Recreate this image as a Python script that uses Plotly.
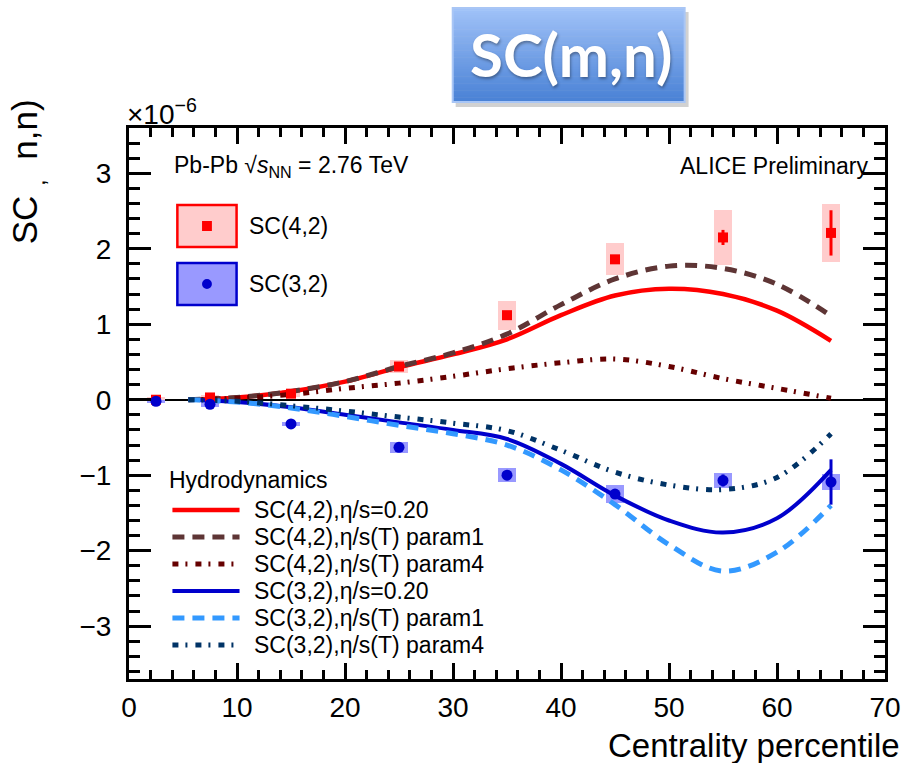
import plotly.graph_objects as go

# ---------------- data ----------------
cent = [2.5, 7.5, 15, 25, 35, 45, 55, 65]

sc42 = [0.0, 0.03, 0.08, 0.44, 1.12, 1.86, 2.15, 2.21]
sc42_stat = [0.02, 0.02, 0.02, 0.03, 0.04, 0.05, 0.10, 0.30]
sc42_sys = [0.04, 0.03, 0.05, 0.08, 0.19, 0.21, 0.37, 0.38]

sc32 = [-0.02, -0.06, -0.32, -0.63, -1.00, -1.25, -1.07, -1.09]
sc32_stat = [0.02, 0.02, 0.02, 0.02, 0.03, 0.04, 0.08, 0.30]
sc32_sys = [0.02, 0.03, 0.03, 0.07, 0.09, 0.12, 0.10, 0.11]
box_halfwidth = 0.8

hydro_x = [5.5, 10, 15, 20, 25, 30, 35, 40, 45, 50, 55, 60, 65]
sc42_eta020 = [0.0, 0.03, 0.11, 0.24, 0.43, 0.60, 0.80, 1.12, 1.38, 1.47, 1.40, 1.18, 0.78]
sc42_param1 = [0.0, 0.03, 0.11, 0.24, 0.44, 0.62, 0.87, 1.26, 1.60, 1.77, 1.74, 1.53, 1.11]
sc42_param4 = [0.0, 0.02, 0.07, 0.15, 0.22, 0.31, 0.41, 0.49, 0.54, 0.44, 0.28, 0.15, 0.02]
sc32_eta020 = [0.0, -0.03, -0.10, -0.20, -0.30, -0.40, -0.52, -0.85, -1.27, -1.60, -1.76, -1.57, -0.93]
sc32_param1 = [0.0, -0.03, -0.11, -0.22, -0.34, -0.45, -0.60, -0.93, -1.39, -1.92, -2.27, -2.02, -1.40]
sc32_param4 = [0.0, -0.02, -0.08, -0.15, -0.23, -0.31, -0.41, -0.67, -0.96, -1.13, -1.19, -1.03, -0.45]

x_ticks = [0, 10, 20, 30, 40, 50, 60, 70]
y_ticks = [-3, -2, -1, 0, 1, 2, 3]

hydro_labels = [
    "SC(4,2),η/s=0.20",
    "SC(4,2),η/s(T) param1",
    "SC(4,2),η/s(T) param4",
    "SC(3,2),η/s=0.20",
    "SC(3,2),η/s(T) param1",
    "SC(3,2),η/s(T) param4",
]

# ---------------- styles ----------------
FONT = "Liberation Sans, Arial, Helvetica, sans-serif"
RED = "#ff0000"
BROWN = "#5e3535"
DARKRED = "#660000"
BLUE = "#0000cc"
LIGHTBLUE = "#3399ff"
NAVY = "#003366"
PINK = "#ffcccc"
LAVENDER = "#9999ff"
DASH = "12px,8px"
DASHDOT = "6px,7px,2px,8px"

hydro_series = [sc42_eta020, sc42_param1, sc42_param4, sc32_eta020, sc32_param1, sc32_param4]
hydro_styles = [
    (RED, "solid", 4.5),
    (BROWN, DASH, 5),
    (DARKRED, DASHDOT, 5),
    (BLUE, "solid", 4),
    (LIGHTBLUE, DASH, 5),
    (NAVY, DASHDOT, 5),
]

fig = go.Figure()

# systematic boxes
for vals, sys, col in [(sc42, sc42_sys, PINK), (sc32, sc32_sys, LAVENDER)]:
    fig.add_trace(go.Bar(
        x=cent, y=[2 * s for s in sys], base=[v - s for v, s in zip(vals, sys)],
        width=2 * box_halfwidth, marker=dict(color=col, line=dict(width=0)),
        showlegend=False, hoverinfo="skip"))

# hydro curves
for ys, (col, dash, w), name in zip(hydro_series, hydro_styles, hydro_labels):
    fig.add_trace(go.Scatter(
        x=hydro_x, y=ys, mode="lines", name=name,
        line=dict(color=col, dash=dash, width=w, shape="spline", smoothing=1.0),
        showlegend=False))

# data points
fig.add_trace(go.Scatter(
    x=cent, y=sc42, mode="markers", name="SC(4,2)",
    marker=dict(symbol="square", size=10, color=RED),
    error_y=dict(type="data", array=sc42_stat, width=0, thickness=3, color=RED),
    showlegend=False))
fig.add_trace(go.Scatter(
    x=cent, y=sc32, mode="markers", name="SC(3,2)",
    marker=dict(symbol="circle", size=11, color=BLUE),
    error_y=dict(type="data", array=sc32_stat, width=0, thickness=3, color=BLUE),
    showlegend=False))

# ---------------- layout helpers (decoration positions) ----------------
W, H = 913, 763
L, R, T, B = 129, 895, 128, 679


def px(xp):
    return (xp - L) / (R - L)


def py(yp):
    return (B - yp) / (B - T)


shapes = []
annotations = []

# title box with vertical gradient
bx0, bx1, by0, by1 = 457, 692, 8, 102
shapes.append(dict(type="rect", xref="paper", yref="paper",
                   x0=px(bx0 + 3), x1=px(bx1 + 4), y0=py(by1 + 5), y1=py(by0 + 4),
                   fillcolor="rgba(0,0,0,0.18)", line=dict(width=0), layer="above"))
top_c = (160, 194, 248)
bot_c = (74, 130, 214)
n = 40
for i in range(n):
    f = i / (n - 1)
    c = tuple(int(top_c[k] + (bot_c[k] - top_c[k]) * f) for k in range(3))
    ya = by0 + (by1 - by0) * i / n
    yb = by0 + (by1 - by0) * (i + 1) / n
    shapes.append(dict(type="rect", xref="paper", yref="paper",
                       x0=px(bx0), x1=px(bx1), y0=py(yb + 0.5), y1=py(ya),
                       fillcolor="rgb(%d,%d,%d)" % c, line=dict(width=0), layer="above"))
shapes.append(dict(type="rect", xref="paper", yref="paper",
                   x0=px(bx0), x1=px(bx1), y0=py(by1), y1=py(by0),
                   fillcolor="rgba(0,0,0,0)", line=dict(color="#a9c6f5", width=2), layer="above"))
annotations.append(dict(text="SC(m,n)", xref="paper", yref="paper",
                        x=px((bx0 + bx1) / 2 + 2), y=py(54), xanchor="center", yanchor="middle",
                        showarrow=False,
                        font=dict(family="Lato, Open Sans, sans-serif", size=60, color="white",
                                  weight="bold", shadow="1px 2px 3px rgba(0,0,0,0.35)")))

# top legend boxes
for (yc, fill, edge, sym, col, lab) in [
        (226, PINK, RED, "square", RED, "SC(4,2)"),
        (284, LAVENDER, BLUE, "circle", BLUE, "SC(3,2)")]:
    shapes.append(dict(type="rect", xref="paper", yref="paper",
                       x0=px(178), x1=px(238), y0=py(yc + 21), y1=py(yc - 21),
                       fillcolor=fill, line=dict(color=edge, width=2.5)))
    if sym == "square":
        shapes.append(dict(type="rect", xref="paper", yref="paper",
                           x0=px(203), x1=px(213), y0=py(yc + 5), y1=py(yc - 5),
                           fillcolor=col, line=dict(width=0)))
    else:
        shapes.append(dict(type="circle", xref="paper", yref="paper",
                           x0=px(203), x1=px(213), y0=py(yc + 5), y1=py(yc - 5),
                           fillcolor=col, line=dict(width=0)))
    annotations.append(dict(text=lab, xref="paper", yref="paper", x=px(249), y=py(yc),
                            xanchor="left", yanchor="middle", showarrow=False,
                            font=dict(family=FONT, size=23, color="black")))

# hydrodynamics legend
annotations.append(dict(text="Hydrodynamics", xref="paper", yref="paper", x=px(168), y=py(480),
                        xanchor="left", yanchor="middle", showarrow=False,
                        font=dict(family=FONT, size=23, color="black")))
rows = [510, 537, 564, 591, 618, 645]
for yr, (col, dash, w), lab in zip(rows, hydro_styles, hydro_labels):
    shapes.append(dict(type="line", xref="paper", yref="paper",
                       x0=px(173), x1=px(241), y0=py(yr), y1=py(yr),
                       line=dict(color=col, dash=dash, width=w)))
    annotations.append(dict(text=lab, xref="paper", yref="paper", x=px(254), y=py(yr),
                            xanchor="left", yanchor="middle", showarrow=False,
                            font=dict(family=FONT, size=23, color="black")))

# texts
NB = "\u00a0"
annotations += [
    dict(text="Pb-Pb √<i>s</i><sub>NN</sub> = 2.76 TeV", xref="paper", yref="paper",
         x=px(173), y=py(166), xanchor="left", yanchor="middle", showarrow=False,
         font=dict(family=FONT, size=23, color="black")),
    dict(text="ALICE Preliminary", xref="paper", yref="paper",
         x=px(880), y=py(166), xanchor="right", yanchor="middle", showarrow=False,
         font=dict(family=FONT, size=23, color="black")),
    dict(text="×10<sup>−6</sup>", xref="paper", yref="paper",
         x=px(125), y=py(112), xanchor="left", yanchor="middle", showarrow=False,
         font=dict(family=FONT, size=28, color="black")),
    dict(text="Centrality percentile", xref="paper", yref="paper",
         x=px(912), y=py(745), xanchor="right", yanchor="middle", showarrow=False,
         font=dict(family=FONT, size=33, color="black")),
    dict(text="SC" + NB + "<sub>,</sub>" + NB * 2 + "n,n)", xref="paper", yref="paper",
         x=px(26), y=py(172), xanchor="center", yanchor="middle", showarrow=False,
         textangle=-90, font=dict(family=FONT, size=35, color="black")),
]

axis_common = dict(showline=True, linecolor="black", linewidth=3, mirror="allticks",
                   ticks="inside", tickcolor="black", tickwidth=2.5,
                   showgrid=False, tickfont=dict(family=FONT, size=28, color="black"))

fig.update_layout(
    width=W, height=H,
    margin=dict(l=L, r=W - R, t=T, b=H - B, pad=0),
    paper_bgcolor="white", plot_bgcolor="white",
    barmode="overlay", bargap=0,
    showlegend=False,
    shapes=shapes, annotations=annotations,
    xaxis=dict(range=[0, 70], tickvals=x_ticks, ticklen=16, zeroline=False,
               minor=dict(dtick=2, ticklen=9, ticks="inside", tickcolor="black", tickwidth=2.5),
               ticklabelstandoff=1, **axis_common),
    yaxis=dict(range=[-3.7, 3.6], tickvals=y_ticks, ticklen=22,
               zeroline=True, zerolinecolor="black", zerolinewidth=2,
               minor=dict(dtick=0.2, ticklen=11, ticks="inside", tickcolor="black", tickwidth=2.5),
               ticklabelstandoff=9, **axis_common),
)

fig.write_html("out.html")
